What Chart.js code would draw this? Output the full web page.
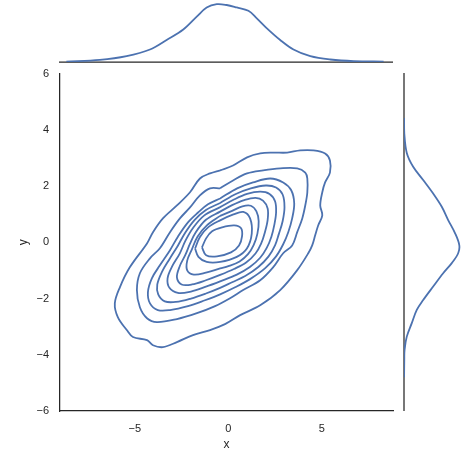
<!DOCTYPE html>
<html>
<head>
<meta charset="utf-8">
<script src="https://cdn.jsdelivr.net/npm/chart.js@4/dist/chart.umd.min.js"></script>
<style>
  html, body { margin: 0; padding: 0; background: #fff; }
  #wrap { position: relative; width: 468px; height: 456px; overflow: hidden; }
  canvas { position: absolute; }
</style>
</head>
<body>
<div id="wrap">
  <canvas id="main" width="400" height="400" style="left:0;top:56px"></canvas>
  <canvas id="top" width="400" height="64" style="left:0;top:0"></canvas>
  <canvas id="right" width="70" height="360" style="left:398px;top:62px"></canvas>
</div>
<script>
const xTicks = [-5, 0, 5];
const yTicks = [-6, -4, -2, 0, 2, 4, 6];

// kde contour levels, outer to inner, [x, y]
const level1 = [[-0.44,2.56],[0.25,2.73],[1.00,3.02],[1.70,3.16],[2.39,3.19],[3.14,3.19],[3.84,3.27],[4.54,3.27],[5.17,3.16],[5.43,2.91],[5.43,2.48],[5.17,2.13],[5.02,1.78],[4.91,1.31],[5.02,0.96],[4.80,0.60],[4.64,0.25],[4.48,-0.11],[4.27,-0.39],[3.68,-0.99],[2.77,-1.70],[1.70,-2.24],[0.63,-2.59],[-0.18,-2.91],[-0.98,-3.12],[-1.89,-3.30],[-2.75,-3.55],[-3.50,-3.73],[-4.03,-3.66],[-4.35,-3.48],[-5.10,-3.37],[-5.43,-3.12],[-5.91,-2.66],[-6.07,-2.17],[-5.80,-1.60],[-5.27,-0.89],[-4.35,-0.04],[-4.03,0.36],[-3.50,0.85],[-2.75,1.31],[-2.05,1.78],[-1.52,2.27],[-0.98,2.45]];
const level2 = [[-0.44,1.92],[0.25,2.20],[1.00,2.45],[1.86,2.56],[2.77,2.63],[3.68,2.63],[4.11,2.48],[4.22,2.27],[4.22,1.77],[4.11,1.31],[3.95,0.85],[3.68,0.36],[3.41,-0.11],[2.93,-0.39],[2.39,-0.89],[1.70,-1.35],[0.79,-1.70],[0.09,-1.99],[-0.71,-2.27],[-1.68,-2.52],[-2.75,-2.73],[-3.82,-2.84],[-4.35,-2.70],[-4.73,-2.31],[-4.89,-1.70],[-4.73,-1.10],[-4.19,-0.57],[-3.66,-0.21],[-3.12,0.36],[-2.59,0.85],[-2.05,1.24],[-1.52,1.67],[-0.98,1.92]];
const level3 = [[-0.44,1.56],[0.47,1.92],[1.32,2.13],[2.23,2.27],[2.93,2.13],[3.36,1.85],[3.52,1.38],[3.41,0.85],[3.20,0.36],[2.93,-0.07],[2.55,-0.50],[1.97,-0.92],[1.16,-1.31],[0.36,-1.60],[-0.44,-1.85],[-1.25,-2.06],[-2.16,-2.27],[-3.12,-2.41],[-3.77,-2.41],[-4.19,-2.17],[-4.30,-1.77],[-4.09,-1.28],[-3.66,-0.82],[-3.12,-0.28],[-2.69,0.21],[-2.16,0.71],[-1.62,1.06],[-1.09,1.35]];
const level4 = [[-0.44,1.40],[0.40,1.72],[1.20,1.92],[2.00,2.02],[2.55,1.95],[2.90,1.70],[3.00,1.25],[2.90,0.75],[2.70,0.30],[2.50,-0.10],[2.15,-0.50],[1.60,-0.88],[0.90,-1.20],[0.20,-1.42],[-0.44,-1.62],[-1.20,-1.82],[-2.00,-2.00],[-2.80,-2.12],[-3.40,-2.10],[-3.75,-1.85],[-3.80,-1.50],[-3.55,-1.05],[-3.15,-0.60],[-2.70,-0.12],[-2.30,0.35],[-1.80,0.80],[-1.20,1.15]];
const level5 = [[-0.44,1.25],[0.30,1.52],[1.00,1.72],[1.70,1.80],[2.20,1.72],[2.50,1.45],[2.55,1.05],[2.45,0.60],[2.30,0.20],[2.05,-0.20],[1.70,-0.55],[1.15,-0.88],[0.45,-1.15],[-0.44,-1.39],[-1.20,-1.58],[-2.00,-1.75],[-2.70,-1.80],[-3.15,-1.62],[-3.25,-1.28],[-3.00,-0.85],[-2.60,-0.40],[-2.30,0.05],[-1.90,0.50],[-1.30,0.95]];
const level6 = [[-0.44,1.09],[0.20,1.32],[0.85,1.50],[1.45,1.58],[1.85,1.48],[2.10,1.20],[2.10,0.80],[1.95,0.35],[1.75,-0.05],[1.45,-0.40],[0.95,-0.72],[0.30,-0.95],[-0.44,-1.16],[-1.20,-1.35],[-1.95,-1.50],[-2.50,-1.50],[-2.75,-1.25],[-2.60,-0.85],[-2.30,-0.45],[-2.05,-0.05],[-1.75,0.35],[-1.20,0.80]];
const level7 = [[-0.44,0.94],[0.20,1.12],[0.75,1.28],[1.20,1.30],[1.50,1.10],[1.62,0.75],[1.55,0.30],[1.35,-0.10],[1.05,-0.42],[0.60,-0.68],[0.00,-0.85],[-0.44,-0.93],[-1.20,-1.08],[-1.85,-1.15],[-2.20,-1.00],[-2.20,-0.65],[-1.95,-0.25],[-1.65,0.20],[-1.15,0.60]];
const level8 = [[-1.78,-0.22],[-1.52,0.19],[-1.07,0.54],[-0.44,0.78],[0.27,0.99],[0.80,1.08],[1.16,0.85],[1.25,0.31],[0.99,-0.22],[0.45,-0.52],[-0.44,-0.70],[-1.16,-0.70],[-1.60,-0.52]];
const level9 = [[-1.41,-0.18],[-1.19,0.14],[-0.87,0.39],[-0.34,0.53],[0.31,0.60],[0.68,0.50],[0.73,0.21],[0.57,-0.11],[0.14,-0.36],[-0.61,-0.50],[-1.19,-0.46]];

// marginal densities
const topX = [-8.66, -6.87, -5.44, -4.19, -3.30, -2.41, -1.69, -1.16, -0.62, -0.09, 0.45, 1.07, 1.52, 2.06, 2.77, 3.48, 4.38, 5.45, 6.70, 8.30];
const topDensity = [0.001, 0.005, 0.014, 0.030, 0.053, 0.078, 0.109, 0.131, 0.139, 0.137, 0.131, 0.123, 0.105, 0.081, 0.053, 0.030, 0.014, 0.006, 0.002, 0.001];
const rightY = [4.4, 3.86, 3.16, 2.67, 2.20, 1.72, 1.25, 0.78, 0.31, -0.11, -0.40, -0.75, -1.11, -1.58, -2.06, -2.41, -2.88, -3.36, -3.83, -4.19, -4.8];
const rightDensity = [0.0003, 0.001, 0.010, 0.033, 0.069, 0.105, 0.136, 0.159, 0.184, 0.199, 0.195, 0.172, 0.141, 0.105, 0.069, 0.046, 0.028, 0.010, 0.002, 0.001, 0.0003];

const blue = '#4C72B0';
const dark = '#262626';
const fontFamily = "'Liberation Sans', Arial, sans-serif";

function fmt(v) {
    return v < 0 ? '\u2212' + Math.abs(v) : String(v);
}

function lineSet(points) {
    return {
        data: points.map(p => ({ x: p[0], y: p[1] })),
        showLine: true,
        borderColor: blue,
        borderWidth: 1.8,
        pointRadius: 0,
        tension: 0.35,
        fill: false
    };
}

const levels = [level1, level2, level3, level4, level5, level6, level7, level8, level9];
const contourSets = levels.map(l => lineSet(l.concat([l[0]])));

// y tick padding also pads the top of the plot, hence the canvas sits at 56px
new Chart(document.getElementById('main'), {
    type: 'scatter',
    data: { datasets: contourSets },
    options: {
        responsive: false,
        animation: false,
        layout: { padding: { top: 5, right: 7, left: 0, bottom: 0 } },
        plugins: { legend: { display: false }, tooltip: { enabled: false } },
        scales: {
            x: {
                type: 'linear', min: -9.0, max: 8.8,
                afterBuildTicks: s => { s.ticks = xTicks.map(v => ({ value: v })); },
                afterFit: s => { s.height = 45; },
                grid: { display: false, drawTicks: false },
                border: { display: true, color: dark, width: 1.25 },
                ticks: { padding: 11, color: dark, font: { family: fontFamily, size: 11 }, callback: v => fmt(v), maxRotation: 0 },
                title: { display: true, text: 'x', color: dark, font: { family: fontFamily, size: 12 }, padding: { top: 0, bottom: 4 } }
            },
            y: {
                type: 'linear', min: -6, max: 6,
                afterBuildTicks: s => { s.ticks = yTicks.map(v => ({ value: v })); },
                afterFit: s => { s.width = 60; },
                grid: { display: false, drawTicks: false },
                border: { display: true, color: dark, width: 1.25 },
                ticks: { padding: 11, color: dark, font: { family: fontFamily, size: 11 }, callback: v => fmt(v) },
                title: { display: true, text: 'y', color: dark, font: { family: fontFamily, size: 12 }, padding: { top: 16, bottom: 0 } }
            }
        }
    }
});

const spinePlugin = {
    id: 'spine',
    beforeDatasetsDraw(chart, args, opts) {
        const a = chart.chartArea;
        const c = chart.ctx;
        c.save();
        c.strokeStyle = dark;
        c.lineWidth = 1.25;
        c.beginPath();
        if (opts.side === 'bottom') {
            c.moveTo(a.left - 1, a.bottom);
            c.lineTo(a.right, a.bottom);
        } else {
            c.moveTo(a.left, a.top);
            c.lineTo(a.left, a.bottom);
        }
        c.stroke();
        c.restore();
    }
};

new Chart(document.getElementById('top'), {
    type: 'scatter',
    data: { datasets: [lineSet(topX.map((x, i) => [x, topDensity[i]]))] },
    plugins: [spinePlugin],
    options: {
        responsive: false,
        animation: false,
        layout: { padding: { top: 0, right: 7, left: 60, bottom: 2 } },
        plugins: { legend: { display: false }, tooltip: { enabled: false }, spine: { side: 'bottom' } },
        scales: {
            x: { type: 'linear', min: -9.0, max: 8.8, display: false },
            y: { type: 'linear', min: 0, max: 0.149, display: false }
        }
    }
});

new Chart(document.getElementById('right'), {
    type: 'scatter',
    data: { datasets: [lineSet(rightY.map((y, i) => [rightDensity[i], y]))] },
    plugins: [spinePlugin],
    options: {
        responsive: false,
        animation: false,
        layout: { padding: { top: 11, right: 4, left: 6, bottom: 11 } },
        plugins: { legend: { display: false }, tooltip: { enabled: false }, spine: { side: 'left' } },
        scales: {
            x: { type: 'linear', min: 0, max: 0.216, display: false },
            y: { type: 'linear', min: -6, max: 6, display: false }
        }
    }
});
</script>
</body>
</html>
